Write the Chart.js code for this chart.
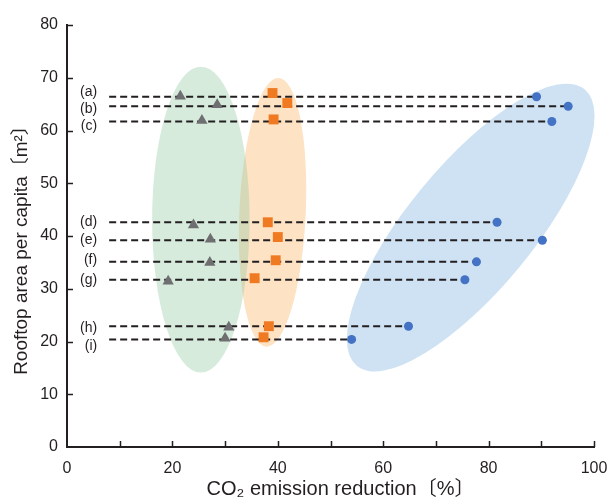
<!DOCTYPE html>
<html>
<head>
<meta charset="utf-8">
<script src="https://cdn.jsdelivr.net/npm/chart.js@4"></script>
<style>
  html, body { margin: 0; padding: 0; background: #fff; }
  #wrap { width: 615px; height: 501px; }
</style>
</head>
<body>
<div id="wrap"><canvas id="myChart" width="615" height="501"></canvas></div>
<script>
// data
const rowLabels = ['(a)', '(b)', '(c)', '(d)', '(e)', '(f)', '(g)', '(h)', '(i)'];
const rowY = [66.4, 64.6, 61.7, 42.6, 39.2, 35.1, 31.7, 22.9, 20.4];
const labelY = [67.3, 64.0, 60.9, 42.7, 39.2, 35.5, 31.7, 22.5, 19.1];
const lineStartX = 8;
const circleX = [89.1, 95.1, 92.0, 81.6, 90.2, 77.7, 75.5, 64.8, 54.0];
const triangleX = [21.5, 28.5, 25.6, 24.0, 27.2, 27.1, 19.2, 30.7, 30.0];
const triangleY = [66.5, 64.9, 61.9, 42.1, 39.4, 35.0, 31.4, 22.7, 20.6];
const squareX = [39.0, 41.8, 39.2, 38.1, 40.0, 39.6, 35.6, 38.3, 37.3];
const squareY = [67.1, 65.2, 62.1, 42.6, 39.8, 35.4, 32.0, 22.9, 20.8];

// leading / trailing spaces nudge the titles off-centre like the original
const xTitle = '\u2002\u2002CO₂ emission reduction〔%〕';
const yTitle = 'Rooftop area per capita〔m²〕\u2002\u2002';

// shaded groups (data units), drawn behind everything
const groups = [
  {cx: 39.0, cy: 44.5, rx: 6.3, ry: 25.5, rot: 2.6, color: '#fde2c4'},
  {cx: 25.4, cy: 43.1, rx: 9.25, ry: 29, rot: 0, color: 'rgba(152,205,167,0.4)'},
  {cx: 76.6, cy: 41.6, rx: 34.0, ry: 11.9, rot: -50.5, color: '#cfe2f3'}
];

const ink = '#231f20';
const font = "'Liberation Sans', Arial, 'Noto Sans CJK JP', sans-serif";

const toPts = (xs, ys) => xs.map((x, i) => ({x: x, y: ys[i]}));

const dashSets = rowY.map((y, i) => ({
  type: 'line',
  data: [{x: lineStartX, y: y}, {x: circleX[i], y: y}],
  borderColor: ink,
  borderWidth: 2,
  borderDash: [7, 4],
  pointRadius: 0,
  order: 5
}));

const groupPlugin = {
  id: 'groups',
  beforeDatasetsDraw(chart) {
    const ctx = chart.ctx, xs = chart.scales.x, ys = chart.scales.y;
    const kx = Math.abs(xs.getPixelForValue(1) - xs.getPixelForValue(0));
    const ky = Math.abs(ys.getPixelForValue(1) - ys.getPixelForValue(0));
    ctx.save();
    groups.forEach(g => {
      ctx.beginPath();
      ctx.fillStyle = g.color;
      ctx.ellipse(xs.getPixelForValue(g.cx), ys.getPixelForValue(g.cy),
        g.rx * kx, g.ry * ky, g.rot * Math.PI / 180, 0, Math.PI * 2);
      ctx.fill();
    });
    ctx.restore();
  },
  afterDraw(chart) {
    const ctx = chart.ctx, xs = chart.scales.x, ys = chart.scales.y;
    ctx.save();
    ctx.strokeStyle = ink;
    ctx.lineWidth = 1.5;
    // inward tick marks
    const y0 = ys.getPixelForValue(0), x0 = xs.getPixelForValue(0);
    xs.ticks.forEach(t => {
      if (t.value === 0) return;
      const px = Math.round(xs.getPixelForValue(t.value)) + 0.5;
      ctx.beginPath(); ctx.moveTo(px, y0); ctx.lineTo(px, y0 - 6); ctx.stroke();
    });
    ys.ticks.forEach(t => {
      if (t.value === 0) return;
      const py = Math.round(ys.getPixelForValue(t.value)) + 0.5;
      ctx.beginPath(); ctx.moveTo(x0, py); ctx.lineTo(x0 + 6, py); ctx.stroke();
    });
    // row labels
    ctx.fillStyle = ink;
    ctx.font = '14px ' + font;
    ctx.textAlign = 'right';
    ctx.textBaseline = 'middle';
    const lx = xs.getPixelForValue(lineStartX) - 12;
    rowLabels.forEach((s, i) => ctx.fillText(s, lx, ys.getPixelForValue(labelY[i])));
    ctx.restore();
  }
};

new Chart(document.getElementById('myChart'), {
  type: 'scatter',
  data: {
    datasets: [
      {
        data: toPts(circleX, rowY),
        pointStyle: 'circle', pointRadius: 4.5,
        backgroundColor: '#4472c4', borderColor: '#4472c4', borderWidth: 0, order: 0
      },
      {
        data: toPts(squareX, squareY),
        pointStyle: 'rect', pointRadius: 7,
        backgroundColor: '#f07a22', borderColor: '#f07a22', borderWidth: 0, order: 0
      },
      {
        data: toPts(triangleX, triangleY),
        pointStyle: 'triangle', pointRadius: 6.5,
        backgroundColor: '#6f6f72', borderColor: '#6f6f72', borderWidth: 0, order: 0
      },
      ...dashSets
    ]
  },
  options: {
    responsive: false,
    animation: false,
    layout: {padding: {top: 25, right: 21, bottom: 0, left: 0}},
    plugins: {legend: {display: false}, tooltip: {enabled: false}},
    scales: {
      x: {
        type: 'linear', min: 0, max: 100,
        afterFit(s) { s.height = 54; },
        grid: {display: false},
        border: {display: true, color: ink, width: 2},
        ticks: {
          stepSize: 10, padding: 4, color: ink, maxRotation: 0,
          font: {family: font, size: 16},
          callback: v => (v % 20 === 0 ? v : '')
        },
        title: {display: true, text: xTitle, color: ink, padding: 0,
          font: {family: font, size: 20}}
      },
      y: {
        type: 'linear', min: 0, max: 80,
        afterFit(s) { s.width = 67; },
        grid: {display: false},
        border: {display: true, color: ink, width: 2},
        ticks: {stepSize: 10, padding: 1, color: ink, font: {family: font, size: 16}},
        title: {display: true, text: yTitle, color: ink, padding: {top: 10, bottom: 0},
          font: {family: font, size: 19}}
      }
    }
  },
  plugins: [groupPlugin]
});
</script>
</body>
</html>
